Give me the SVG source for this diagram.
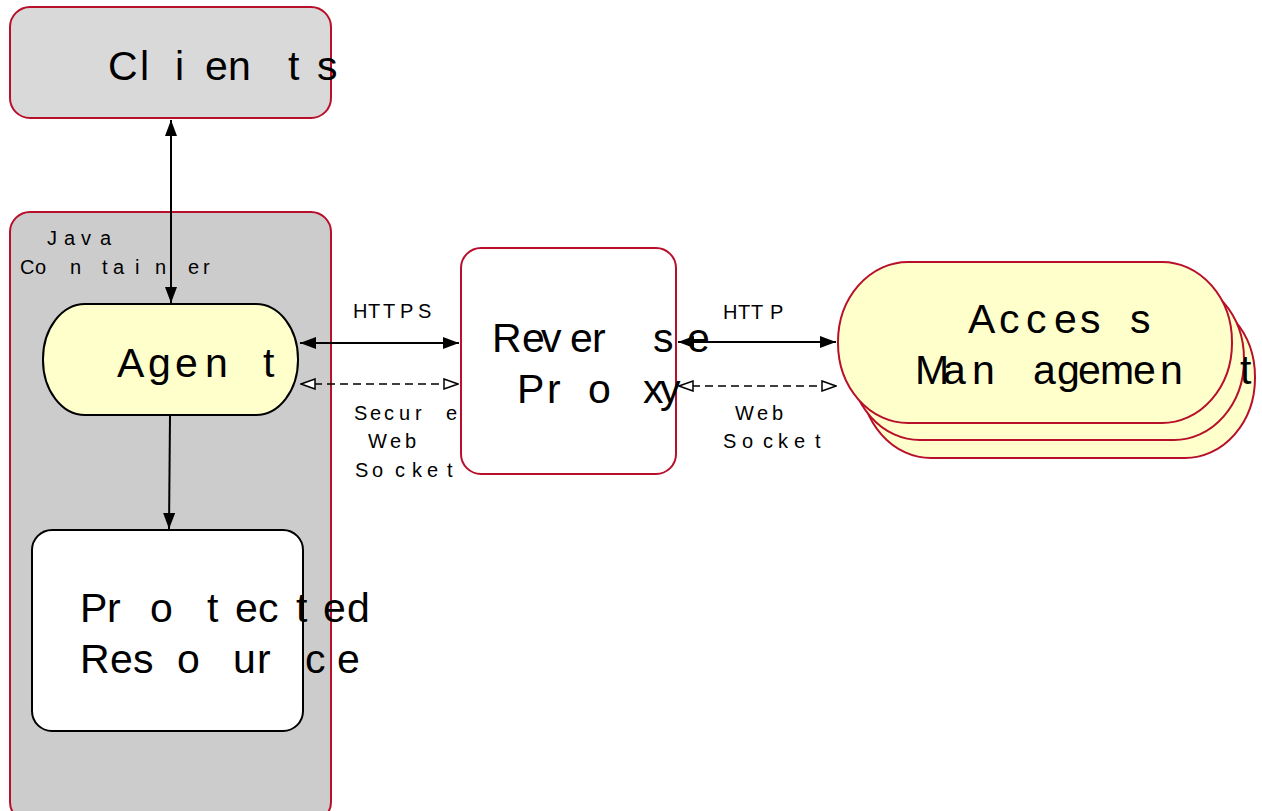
<svg xmlns="http://www.w3.org/2000/svg" width="1262" height="811" viewBox="0 0 1262 811">
<style>
  text { font-family: "Liberation Sans", Arial, sans-serif; fill: #000; }
  .big { font-size: 41px; }
  .small { font-size: 20px; }
  .red { stroke: #b80f2b; stroke-width: 2; }
  .blk { stroke: #000; stroke-width: 2; }
  .line { stroke: #000; stroke-width: 2; fill: none; }
  .dash { stroke: #000; stroke-width: 1.5; fill: none; stroke-dasharray: 8 5; }
</style>
<defs>
  <marker id="fs" viewBox="0 0 16 12" refX="16" refY="6" markerWidth="16" markerHeight="12" markerUnits="userSpaceOnUse" orient="auto-start-reverse">
    <path d="M0,0 L16,6 L0,12 Z" fill="#000"/>
  </marker>
  <marker id="os" viewBox="0 0 16 12" refX="15" refY="6" markerWidth="16" markerHeight="12" markerUnits="userSpaceOnUse" orient="auto-start-reverse">
    <path d="M1,1 L15,6 L1,11 Z" fill="#fff" stroke="#000" stroke-width="1.5"/>
  </marker>
</defs>

<g id="clients">
  <rect x="10" y="7" width="321" height="111" rx="20" ry="20" fill="#d9d9d9" class="red"/>
  <text class="big" x="108 140 175 205 228 288 317" y="80">Clients</text>
</g>

<g id="java-container">
  <rect x="10" y="212" width="321" height="610" rx="20" ry="20" fill="#cccccc" class="red"/>
  <text class="small" x="47 64 81 100" y="245">Java</text>
  <text class="small" x="20 35 70 102 113 135 155 188 203" y="274">Container</text>
</g>

<g id="agent">
  <rect x="43" y="304" width="255" height="111" rx="42" ry="55" fill="#ffffcc" class="blk"/>
  <text class="big" x="117 148 175 205 263" y="377">Agent</text>
</g>

<g id="protected-resource">
  <rect x="32" y="530" width="271" height="201" rx="20" ry="20" fill="#fff" class="blk"/>
  <text class="big" x="80 107 150 207 235 258 296 323 347" y="622">Protected</text>
  <text class="big" x="80 110 133 177 233 257 305 337" y="673">Resource</text>
</g>

<g id="reverse-proxy">
  <rect x="461" y="248" width="215" height="226" rx="20" ry="20" fill="#fff" class="red"/>
  <text class="big" x="492 522 541 570 592 653 687" y="352">Reverse</text>
  <text class="big" x="517 547 588 643 660" y="403">Proxy</text>
</g>

<g id="access-management">
  <rect x="861" y="297" width="394" height="161" rx="70" ry="80" fill="#ffffcc" class="red"/>
  <rect x="850" y="279" width="394" height="161" rx="70" ry="80" fill="#ffffcc" class="red"/>
  <rect x="838" y="262" width="394" height="161" rx="70" ry="80" fill="#ffffcc" class="red"/>
  <text class="big" x="968 999 1026 1054 1080 1130" y="333">Access</text>
  <text class="big" x="915 943 972 1033 1057 1078 1100 1133 1160 1240" y="384">Management</text>
</g>

<g id="connectors">
  <line x1="171" y1="120" x2="171" y2="303" class="line" marker-start="url(#fs)" marker-end="url(#fs)"/>
  <line x1="170" y1="416" x2="169" y2="529" class="line" marker-end="url(#fs)"/>
  <line x1="300" y1="343" x2="459" y2="343" class="line" marker-start="url(#fs)" marker-end="url(#fs)"/>
  <line x1="301" y1="384" x2="458" y2="384" class="dash" marker-start="url(#os)" marker-end="url(#os)"/>
  <line x1="678" y1="342" x2="836" y2="342" class="line" marker-start="url(#fs)" marker-end="url(#fs)"/>
  <line x1="679" y1="386" x2="836" y2="386" class="dash" marker-start="url(#os)" marker-end="url(#os)"/>
  <text class="small" x="353 368 383 400 418" y="318">HTTPS</text>
  <text class="small" x="354 370 384 399 415 446" y="420">Secure</text>
  <text class="small" x="368 390 405" y="448">Web</text>
  <text class="small" x="355 372 395 412 427 447" y="477">Socket</text>
  <text class="small" x="723 738 751 770" y="319">HTTP</text>
  <text class="small" x="735 757 772" y="420">Web</text>
  <text class="small" x="723 742 763 778 794 815" y="448">Socket</text>
</g>
</svg>
